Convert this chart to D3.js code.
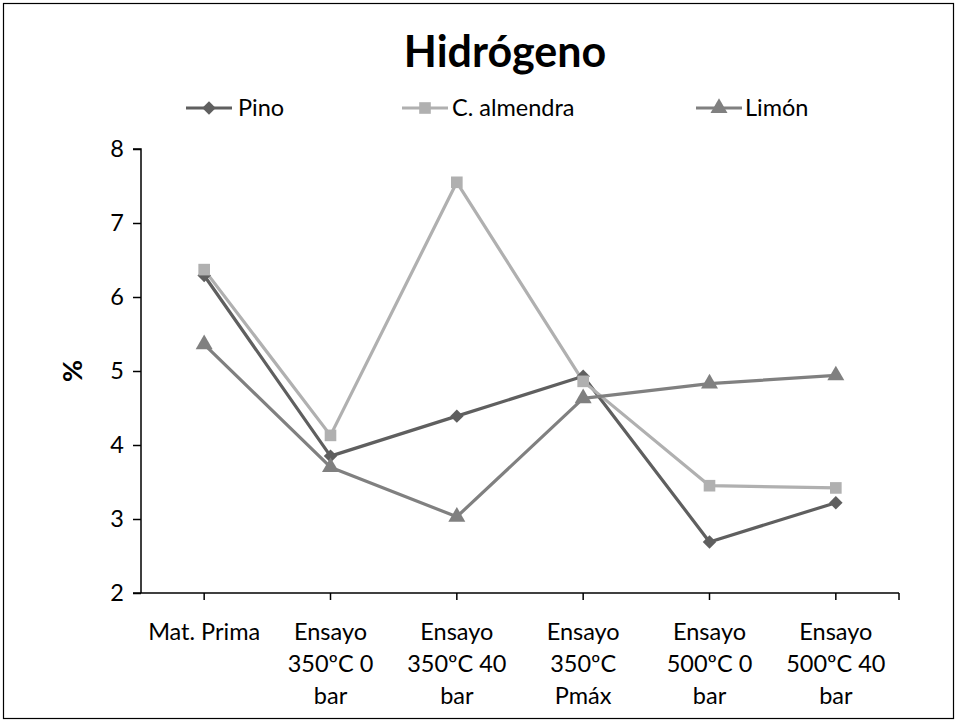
<!DOCTYPE html>
<html>
<head>
<meta charset="utf-8">
<script src="https://cdn.jsdelivr.net/npm/d3@7"></script>
<style>
  html, body { margin: 0; padding: 0; background: #fff; }
  svg { display: block; font-family: Lato, "Open Sans", sans-serif; }
</style>
</head>
<body>
<svg id="chart" width="957" height="720"></svg>
<script>
// Hydrogen content (%) per sample and treatment
const categories = [
  ["Mat. Prima"],
  ["Ensayo", "350ºC 0", "bar"],
  ["Ensayo", "350ºC 40", "bar"],
  ["Ensayo", "350ºC", "Pmáx"],
  ["Ensayo", "500ºC 0", "bar"],
  ["Ensayo", "500ºC 40", "bar"]
];
const pino = [6.29, 3.85, 4.39, 4.93, 2.69, 3.22];
const almendra = [6.37, 4.13, 7.55, 4.86, 3.45, 3.42];
const limon = [5.36, 3.70, 3.03, 4.63, 4.83, 4.94];
const yTicks = [2, 3, 4, 5, 6, 7, 8];

const series = [
  { name: "Pino", values: pino, color: "#5f5f5f", symbol: d3.symbolDiamond2, size: 115 },
  { name: "C. almendra", values: almendra, color: "#b0b0b0", symbol: d3.symbolSquare, size: 135 },
  { name: "Limón", values: limon, color: "#808080", symbol: d3.symbolTriangle, size: 125 }
];

const svg = d3.select("#chart");
const plotLeft = 141, plotRight = 899, plotTop = 149, plotBottom = 593;
const labelSize = 23.5;

// Outer frame
svg.append("rect")
  .attr("x", 3.5).attr("y", 3.5).attr("width", 950).attr("height", 715)
  .attr("fill", "none").attr("stroke", "#000").attr("stroke-width", 1.2);

// Title
svg.append("text")
  .attr("x", 505).attr("y", 67)
  .attr("text-anchor", "middle")
  .attr("font-size", 43).attr("font-weight", "bold").attr("fill", "#000")
  .text("Hidrógeno");

const x = d3.scalePoint()
  .domain(d3.range(categories.length))
  .range([plotLeft, plotRight])
  .padding(0.5);
const y = d3.scaleLinear().domain([2, 8]).range([plotBottom, plotTop]);

// Y axis
const yAxis = svg.append("g")
  .attr("transform", `translate(${plotLeft},0)`)
  .call(d3.axisLeft(y).tickValues(yTicks).tickSize(8).tickPadding(9).tickFormat(d3.format("d")));
yAxis.select(".domain").attr("stroke", "#000").attr("stroke-width", 1.5).attr("d", `M-8,${plotTop}H0V${plotBottom}`);
yAxis.selectAll(".tick line").attr("stroke", "#000").attr("stroke-width", 1.5);
yAxis.selectAll(".tick text").attr("font-size", labelSize).attr("font-family", "Lato, sans-serif").attr("fill", "#000");

// X axis: ticks under each category and at the end of the axis
const xg = svg.append("g");
xg.append("line")
  .attr("x1", plotLeft - 8).attr("x2", plotRight).attr("y1", plotBottom).attr("y2", plotBottom)
  .attr("stroke", "#000").attr("stroke-width", 1.5);
const xTickPos = categories.map((c, i) => x(i)).concat([plotRight]);
xg.selectAll("line.tk").data(xTickPos).join("line")
  .attr("class", "tk")
  .attr("x1", d => d).attr("x2", d => d)
  .attr("y1", plotBottom).attr("y2", plotBottom + 7)
  .attr("stroke", "#000").attr("stroke-width", 1.5);
const xl = xg.selectAll("text").data(categories).join("text")
  .attr("text-anchor", "middle")
  .attr("font-size", labelSize).attr("fill", "#000");
xl.each(function (lines, i) {
  d3.select(this).selectAll("tspan").data(lines).join("tspan")
    .attr("x", x(i))
    .attr("y", (d, j) => 640 + j * 32)
    .text(d => d);
});

// Y axis title
svg.append("text")
  .attr("transform", "translate(82,371) rotate(-90)")
  .attr("text-anchor", "middle")
  .attr("font-size", 27).attr("font-weight", "bold").attr("fill", "#000")
  .text("%");

// Lines and markers
const line = d3.line().x((d, i) => x(i)).y(d => y(d));
series.forEach(s => {
  svg.append("path")
    .datum(s.values)
    .attr("d", line)
    .attr("fill", "none").attr("stroke", s.color).attr("stroke-width", 3.2)
    .attr("stroke-linejoin", "round");
});
series.forEach(s => {
  svg.append("g").selectAll("path").data(s.values).join("path")
    .attr("transform", (d, i) => `translate(${x(i)},${y(d)})`)
    .attr("d", d3.symbol().type(s.symbol).size(s.size))
    .attr("fill", s.color);
});

// Legend
const legendItems = [
  { s: series[0], x0: 186, tx: 238 },
  { s: series[1], x0: 402, tx: 452 },
  { s: series[2], x0: 696, tx: 745 }
];
const lg = svg.append("g");
legendItems.forEach(it => {
  const ly = 108;
  lg.append("line")
    .attr("x1", it.x0).attr("x2", it.x0 + 46).attr("y1", ly).attr("y2", ly)
    .attr("stroke", it.s.color).attr("stroke-width", 3.2);
  lg.append("path")
    .attr("transform", `translate(${it.x0 + 23},${ly})`)
    .attr("d", d3.symbol().type(it.s.symbol).size(it.s.size))
    .attr("fill", it.s.color);
  lg.append("text")
    .attr("x", it.tx).attr("y", ly + 8)
    .attr("font-size", labelSize).attr("fill", "#000")
    .text(it.s.name);
});
</script>
</body>
</html>
